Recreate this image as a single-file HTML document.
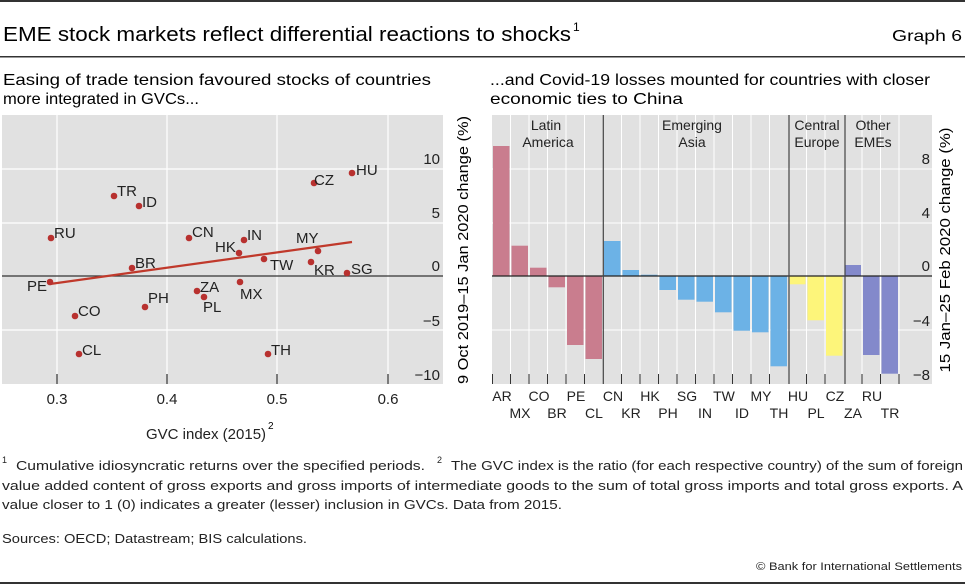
<!DOCTYPE html>
<html><head><meta charset="utf-8"><style>
html,body{margin:0;padding:0;background:#fff}
svg{display:block;font-family:"Liberation Sans",sans-serif}
</style></head><body>
<svg width="965" height="585" viewBox="0 0 965 585" xmlns="http://www.w3.org/2000/svg">
<rect x="0" y="0" width="965" height="2" fill="#333"/>
<text x="3" y="41" font-size="20" textLength="568" lengthAdjust="spacingAndGlyphs">EME stock markets reflect differential reactions to shocks</text>
<text x="573" y="31" font-size="12">1</text>
<text x="962" y="41" font-size="16" text-anchor="end" textLength="70" lengthAdjust="spacingAndGlyphs">Graph 6</text>
<rect x="0" y="56" width="965" height="1.5" fill="#333"/>
<text x="3" y="85" font-size="16" textLength="428" lengthAdjust="spacingAndGlyphs">Easing of trade tension favoured stocks of countries</text>
<text x="3" y="104" font-size="16" textLength="196" lengthAdjust="spacingAndGlyphs">more integrated in GVCs...</text>
<text x="490" y="85" font-size="16" textLength="440" lengthAdjust="spacingAndGlyphs">...and Covid-19 losses mounted for countries with closer</text>
<text x="490" y="104" font-size="16" textLength="193" lengthAdjust="spacingAndGlyphs">economic ties to China</text>

<!-- LEFT PANEL -->
<rect x="2" y="115" width="441" height="269" fill="#e1e1e1"/>
<g stroke="#fff" stroke-width="1.2">
<line x1="57" y1="115" x2="57" y2="384"/><line x1="167" y1="115" x2="167" y2="384"/>
<line x1="277" y1="115" x2="277" y2="384"/><line x1="388" y1="115" x2="388" y2="384"/>
<line x1="2" y1="169" x2="443" y2="169"/><line x1="2" y1="223" x2="443" y2="223"/>
<line x1="2" y1="330" x2="443" y2="330"/>
</g>
<line x1="2" y1="276" x2="443" y2="276" stroke="#333" stroke-width="1.2"/>
<g stroke="#333" stroke-width="1.2">
<line x1="57" y1="374" x2="57" y2="384"/><line x1="167" y1="374" x2="167" y2="384"/>
<line x1="277" y1="374" x2="277" y2="384"/><line x1="388" y1="374" x2="388" y2="384"/>
</g>
<line x1="50" y1="284" x2="352" y2="242" stroke="#c0392b" stroke-width="2.2"/>
<g fill="#b8312f">
<circle cx="352" cy="173" r="3.3"/><circle cx="314" cy="183" r="3.3"/><circle cx="114" cy="196" r="3.3"/>
<circle cx="139" cy="206" r="3.3"/><circle cx="51" cy="238" r="3.3"/><circle cx="189" cy="238" r="3.3"/>
<circle cx="244" cy="240" r="3.3"/><circle cx="239" cy="253" r="3.3"/><circle cx="318" cy="251" r="3.3"/>
<circle cx="264" cy="259" r="3.3"/><circle cx="311" cy="262" r="3.3"/><circle cx="347" cy="273" r="3.3"/>
<circle cx="132" cy="268" r="3.3"/><circle cx="50" cy="282" r="3.3"/><circle cx="240" cy="282" r="3.3"/>
<circle cx="197" cy="291" r="3.3"/><circle cx="204" cy="297" r="3.3"/><circle cx="145" cy="307" r="3.3"/>
<circle cx="75" cy="316" r="3.3"/><circle cx="79" cy="354" r="3.3"/><circle cx="268" cy="354" r="3.3"/>
</g>
<g font-size="15" fill="#222">
<text x="356" y="175">HU</text><text x="314" y="185">CZ</text><text x="117" y="196">TR</text>
<text x="142" y="207">ID</text><text x="54" y="238">RU</text><text x="192" y="237">CN</text>
<text x="247" y="240">IN</text><text x="215" y="252">HK</text><text x="296" y="243">MY</text>
<text x="270" y="270">TW</text><text x="314" y="275">KR</text><text x="351" y="274">SG</text>
<text x="135" y="268">BR</text><text x="27" y="291">PE</text><text x="240" y="299">MX</text>
<text x="200" y="292">ZA</text><text x="203" y="312">PL</text><text x="148" y="303">PH</text>
<text x="78" y="316">CO</text><text x="82" y="355">CL</text><text x="271" y="355">TH</text>
</g>
<g font-size="15" fill="#222" text-anchor="end">
<text x="440" y="164">10</text><text x="440" y="218">5</text><text x="440" y="271">0</text>
<text x="440" y="326">−5</text><text x="440" y="380">−10</text>
</g>
<g font-size="15" fill="#222" text-anchor="middle">
<text x="57" y="404">0.3</text><text x="167" y="404">0.4</text><text x="277" y="404">0.5</text><text x="388" y="404">0.6</text>
<text x="206" y="439">GVC index (2015)</text>
</g>
<text x="268" y="429" font-size="10">2</text>
<text transform="translate(468,250) rotate(-90)" font-size="15" text-anchor="middle" textLength="268" lengthAdjust="spacingAndGlyphs">9 Oct 2019–15 Jan 2020 change (%)</text>

<!-- RIGHT PANEL -->
<rect x="492" y="115" width="440" height="269" fill="#e1e1e1"/>
<g stroke="#fff" stroke-width="1">
<line x1="492" y1="169" x2="932" y2="169"/><line x1="492" y1="223" x2="932" y2="223"/>
<line x1="492" y1="330" x2="932" y2="330"/>
<line x1="510.5" y1="115" x2="510.5" y2="384"/><line x1="529" y1="115" x2="529" y2="384"/>
<line x1="547.5" y1="115" x2="547.5" y2="384"/><line x1="566" y1="115" x2="566" y2="384"/>
<line x1="584.5" y1="115" x2="584.5" y2="384"/><line x1="621.5" y1="115" x2="621.5" y2="384"/>
<line x1="640" y1="115" x2="640" y2="384"/><line x1="658.5" y1="115" x2="658.5" y2="384"/>
<line x1="677" y1="115" x2="677" y2="384"/><line x1="695.5" y1="115" x2="695.5" y2="384"/>
<line x1="714" y1="115" x2="714" y2="384"/><line x1="732.5" y1="115" x2="732.5" y2="384"/>
<line x1="751" y1="115" x2="751" y2="384"/><line x1="769.5" y1="115" x2="769.5" y2="384"/>
<line x1="806.5" y1="115" x2="806.5" y2="384"/><line x1="825" y1="115" x2="825" y2="384"/>
<line x1="862" y1="115" x2="862" y2="384"/><line x1="880.5" y1="115" x2="880.5" y2="384"/>
<line x1="899" y1="115" x2="899" y2="384"/>
</g>
<g fill="#c97d8e">
<rect x="493" y="146" width="16.5" height="130"/>
<rect x="511.5" y="245.7" width="16.5" height="30.3"/>
<rect x="530" y="267.7" width="16.5" height="8.3"/>
<rect x="548.5" y="276" width="16.5" height="11.3"/>
<rect x="567" y="276" width="16.5" height="69"/>
<rect x="585.5" y="276" width="16.5" height="83"/>
</g>
<g fill="#6cb2e6">
<rect x="604" y="241" width="16.5" height="35"/>
<rect x="622.5" y="270" width="16.5" height="6"/>
<rect x="641" y="274.7" width="16.5" height="1.3"/>
<rect x="659.5" y="276" width="16.5" height="14"/>
<rect x="678" y="276" width="16.5" height="23.7"/>
<rect x="696.5" y="276" width="16.5" height="25.7"/>
<rect x="715" y="276" width="16.5" height="36.3"/>
<rect x="733.5" y="276" width="16.5" height="54.7"/>
<rect x="752" y="276" width="16.5" height="56.3"/>
<rect x="770.5" y="276" width="16.5" height="90.3"/>
</g>
<g fill="#fdf57a">
<rect x="789" y="276" width="16.5" height="8.3"/>
<rect x="807.5" y="276" width="16.5" height="44.3"/>
<rect x="826" y="276" width="16.5" height="79.7"/>
</g>
<g fill="#8389cb">
<rect x="844.5" y="265" width="16.5" height="11"/>
<rect x="863" y="276" width="16.5" height="79"/>
<rect x="881.5" y="276" width="16.5" height="97.7"/>
</g>
<line x1="492" y1="276" x2="932" y2="276" stroke="#222" stroke-width="1.2"/>
<g stroke="#444" stroke-width="1.2">
<line x1="603.3" y1="115" x2="603.3" y2="384"/><line x1="789" y1="115" x2="789" y2="384"/>
<line x1="845" y1="115" x2="845" y2="384"/>
</g>
<g stroke="#333" stroke-width="1">
<line x1="492.5" y1="374" x2="492.5" y2="384"/><line x1="510.5" y1="374" x2="510.5" y2="384"/>
<line x1="529" y1="374" x2="529" y2="384"/><line x1="547.5" y1="374" x2="547.5" y2="384"/>
<line x1="566" y1="374" x2="566" y2="384"/><line x1="584.5" y1="374" x2="584.5" y2="384"/>
<line x1="621.5" y1="374" x2="621.5" y2="384"/><line x1="640" y1="374" x2="640" y2="384"/>
<line x1="658.5" y1="374" x2="658.5" y2="384"/><line x1="677" y1="374" x2="677" y2="384"/>
<line x1="695.5" y1="374" x2="695.5" y2="384"/><line x1="714" y1="374" x2="714" y2="384"/>
<line x1="732.5" y1="374" x2="732.5" y2="384"/><line x1="751" y1="374" x2="751" y2="384"/>
<line x1="769.5" y1="374" x2="769.5" y2="384"/><line x1="806.5" y1="374" x2="806.5" y2="384"/>
<line x1="825" y1="374" x2="825" y2="384"/><line x1="862" y1="374" x2="862" y2="384"/>
<line x1="880.5" y1="374" x2="880.5" y2="384"/><line x1="899" y1="374" x2="899" y2="384"/>
</g>
<g font-size="14" fill="#222" text-anchor="middle">
<text x="546" y="130">Latin</text><text x="548" y="147">America</text>
<text x="692" y="130">Emerging</text><text x="692" y="147">Asia</text>
<text x="817" y="130">Central</text><text x="817" y="147">Europe</text>
<text x="873" y="130">Other</text><text x="873" y="147">EMEs</text>
</g>
<g font-size="15" fill="#222" text-anchor="end">
<text x="930" y="164">8</text><text x="930" y="218">4</text><text x="930" y="271">0</text>
<text x="930" y="326">−4</text><text x="930" y="380">−8</text>
</g>
<g font-size="14" fill="#222" text-anchor="middle">
<text x="502" y="401">AR</text><text x="539" y="401">CO</text><text x="576" y="401">PE</text>
<text x="613" y="401">CN</text><text x="650" y="401">HK</text><text x="687" y="401">SG</text>
<text x="724" y="401">TW</text><text x="761" y="401">MY</text><text x="798" y="401">HU</text>
<text x="835" y="401">CZ</text><text x="872" y="401">RU</text>
<text x="520" y="418">MX</text><text x="557" y="418">BR</text><text x="594" y="418">CL</text>
<text x="631" y="418">KR</text><text x="668" y="418">PH</text><text x="705" y="418">IN</text>
<text x="742" y="418">ID</text><text x="779" y="418">TH</text><text x="816" y="418">PL</text>
<text x="853" y="418">ZA</text><text x="890" y="418">TR</text>
</g>
<text transform="translate(950,250) rotate(-90)" font-size="15" text-anchor="middle" textLength="245" lengthAdjust="spacingAndGlyphs">15 Jan–25 Feb 2020 change (%)</text>

<!-- FOOTNOTES -->
<g font-size="13" fill="#222">
<text x="2" y="463" font-size="9">1</text>
<text x="16" y="470" textLength="409" lengthAdjust="spacingAndGlyphs">Cumulative idiosyncratic returns over the specified periods.</text>
<text x="437" y="463" font-size="9">2</text>
<text x="451" y="470" textLength="512" lengthAdjust="spacingAndGlyphs">The GVC index is the ratio (for each respective country) of the sum of foreign</text>
<text x="2" y="490" textLength="961" lengthAdjust="spacingAndGlyphs">value added content of gross exports and gross imports of intermediate goods to the sum of total gross imports and total gross exports. A</text>
<text x="2" y="509" textLength="560" lengthAdjust="spacingAndGlyphs">value closer to 1 (0) indicates a greater (lesser) inclusion in GVCs. Data from 2015.</text>
<text x="2" y="543" textLength="305" lengthAdjust="spacingAndGlyphs">Sources: OECD; Datastream; BIS calculations.</text>
<text x="962" y="570" font-size="11" text-anchor="end" textLength="206" lengthAdjust="spacingAndGlyphs">© Bank for International Settlements</text>
</g>
<rect x="0" y="582" width="965" height="2" fill="#333"/>
</svg>
</body></html>
